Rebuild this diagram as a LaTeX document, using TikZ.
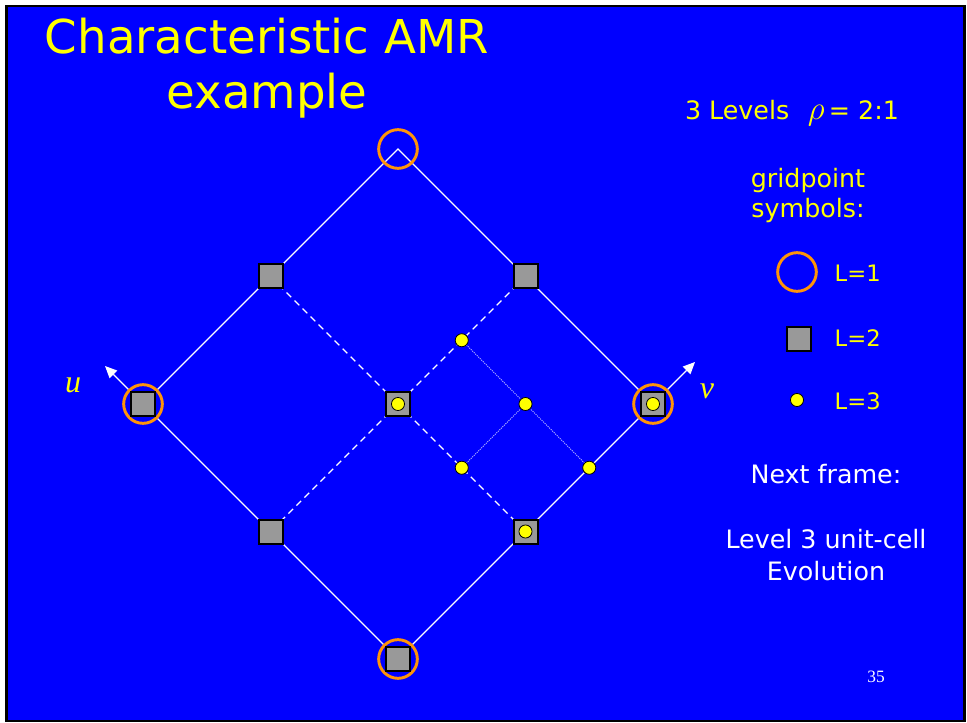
\documentclass[tikz,border=0pt]{standalone}
\usepackage{fontspec}
\setmainfont{DejaVu Sans}
\newfontfamily\labelserif{Liberation Serif}
\usetikzlibrary{arrows.meta}
\definecolor{slideblue}{HTML}{0000FF}
\definecolor{ringorange}{HTML}{FF9408}
\definecolor{dotyellow}{HTML}{FFFF00}
\definecolor{cellgray}{HTML}{999999}

\begin{document}
\begin{tikzpicture}[
  x=0.75pt, y=-0.75pt,
  lone/.style={circle, draw=ringorange, line width=2.2pt, minimum size=29pt, inner sep=0},
  ltwo/.style={rectangle, draw=black, fill=cellgray, line width=1.5pt, minimum size=18pt, inner sep=0},
  lthree/.style={circle, draw=black, fill=dotyellow, line width=0.6pt, minimum size=9.8pt, inner sep=0},
  edgeline/.style={white, line width=0.9pt},
  halfline/.style={white, line width=0.9pt, dash pattern=on 5pt off 3.5pt},
  quarterline/.style={white!75!slideblue, line width=0.6pt, dash pattern=on 0.8pt off 0.8pt},
  axis/.style={white, line width=0.9pt, -{Triangle[length=9pt, width=8pt]}},
  title/.style={text=dotyellow, font=\fontsize{35}{41}\selectfont, align=center},
  legend/.style={text=dotyellow, font=\fontsize{19}{22.5}\selectfont, align=center},
  keytext/.style={text=dotyellow, font=\fontsize{17}{20}\selectfont, anchor=west},
  note/.style={text=white, font=\fontsize{19}{24}\selectfont, align=center},
  axislabel/.style={text=dotyellow, font=\labelserif\itshape\fontsize{24}{24}\selectfont}
]

% slide background
\useasboundingbox (0,0) rectangle (967,723);
\fill[white] (0,0) rectangle (967,723);
\fill[black] (5,5) rectangle (966,722);
\fill[slideblue] (8,7) rectangle (963,720);

% grid points
\coordinate (top) at (398,149);
\coordinate (left) at (143,404);
\coordinate (right) at (653,404);
\coordinate (bottom) at (398,659);
\coordinate (mid) at (398,404);
\coordinate (tl) at (270.5,276.5);
\coordinate (tr) at (525.5,276.5);
\coordinate (bl) at (270.5,531.5);
\coordinate (br) at (525.5,531.5);
\coordinate (qa) at (461.75,340.25);
\coordinate (qb) at (525.5,404);
\coordinate (qc) at (461.75,467.75);
\coordinate (qd) at (589.25,467.75);
\coordinate (utip) at (105,366);
\coordinate (vtip) at (695,362);

% cell edges
\draw[edgeline] (left) -- (top) -- (right);
\draw[edgeline] (left) -- (bottom) -- (right);
\draw[halfline] (tl) -- (mid) -- (br);
\draw[halfline] (tr) -- (mid) -- (bl);
\draw[quarterline] (qa) -- (qb) -- (qd);
\draw[quarterline] (qc) -- (qb);
\draw[axis] (left) -- (utip);
\draw[axis] (right) -- (vtip);

% level 1
\node[lone] (ringtop) at (top) {};
\node[lone] (ringleft) at (left) {};
\node[lone] (ringright) at (right) {};
\node[lone] (ringbottom) at (bottom) {};
% level 2
\node[ltwo] (boxleft) at (left) {};
\node[ltwo] (boxright) at (right) {};
\node[ltwo] (boxbottom) at (bottom) {};
\node[ltwo] (boxmid) at (mid) {};
\node[ltwo] (boxtl) at (tl) {};
\node[ltwo] (boxtr) at (tr) {};
\node[ltwo] (boxbl) at (bl) {};
\node[ltwo] (boxbr) at (br) {};
% level 3
\node[lthree] (dotmid) at (mid) {};
\node[lthree] (dotright) at (right) {};
\node[lthree] (dotbr) at (br) {};
\node[lthree] (dotqa) at (qa) {};
\node[lthree] (dotqb) at (qb) {};
\node[lthree] (dotqc) at (qc) {};
\node[lthree] (dotqd) at (qd) {};

\node[axislabel] (ulabel) at (73,385) {u};
\node[axislabel] (vlabel) at (707,391) {v};

% text
\node[title] (heading) at (267,68) {Characteristic AMR\\example};
\node[legend] (levels) at (792,113) {3 Levels\hspace{14pt}{\fontsize{24}{24}\selectfont$\rho$}\,= 2:1};
\node[legend] (symbols) at (808,196) {gridpoint\\symbols:};
\node[lone] (keyone) at (797,272) {};
\node[ltwo] (keytwo) at (799,339) {};
\node[lthree] (keythree) at (797,400) {};
\node[keytext] (labelone) at (830,273) {L=1};
\node[keytext] (labeltwo) at (830,338) {L=2};
\node[keytext] (labelthree) at (830,401) {L=3};
\node[note] (next) at (826,474) {Next frame:};
\node[note] (evolution) at (826,555) {Level 3 unit-cell\\Evolution};
\node[text=white, font=\labelserif\fontsize{13}{13}\selectfont] (pagenum) at (876,677) {35};

\end{tikzpicture}
\end{document}
